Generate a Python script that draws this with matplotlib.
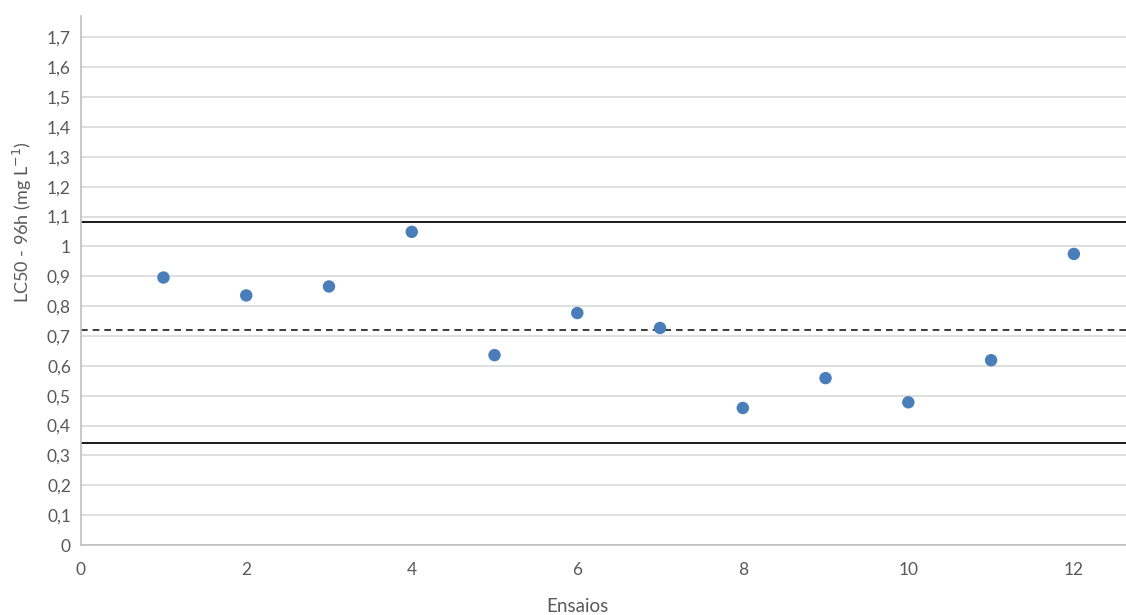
import matplotlib
matplotlib.use("Agg")
import matplotlib.pyplot as plt

# ── Data ───────────────────────────────────────────────────────
ensaios = [1, 2, 3, 4, 5, 6, 7, 8, 9, 10, 11, 12]
lc50 = [0.896, 0.836, 0.866, 1.049, 0.636, 0.777, 0.727, 0.459, 0.559, 0.478, 0.619, 0.975]

media = 0.720        # dashed line
limite_sup = 1.083   # upper control limit
limite_inf = 0.341   # lower control limit

y_ticks = [round(0.1 * i, 1) for i in range(18)]
x_ticks = [0, 2, 4, 6, 8, 10, 12]

plt.rcParams['font.family'] = ['Lato', 'DejaVu Sans']

W, H = 1126, 615
fig = plt.figure(figsize=(W / 100, H / 100), dpi=100)
ax = fig.add_axes([80.7 / W, (H - 545) / H, 1 - 80.7 / W, (545 - 16) / H])

ax.set_xlim(0, 12.63)
ax.set_ylim(0, 1.772)

ax.set_yticks(y_ticks)
ax.set_yticklabels([('%g' % v).replace('.', ',') for v in y_ticks])
ax.set_xticks(x_ticks)
ax.set_xticklabels([str(v) for v in x_ticks])

ax.grid(axis='y', color='#d9d9d9', linewidth=1.2, zorder=0)
ax.set_axisbelow(True)

for s in ('top', 'right'):
    ax.spines[s].set_visible(False)
for s in ('left', 'bottom'):
    ax.spines[s].set_color('#bfbfbf')
    ax.spines[s].set_linewidth(1.2)

ax.tick_params(axis='both', length=0, colors='#595959', labelsize=12.5)
ax.tick_params(axis='x', pad=12)
ax.tick_params(axis='y', pad=7)

ax.axhline(limite_sup, color='#1a1a1a', linewidth=1.4, zorder=2)
ax.axhline(limite_inf, color='#1a1a1a', linewidth=1.4, zorder=2)
ax.axhline(media, color='#1a1a1a', linewidth=1.2, linestyle=(0, (4, 3)), zorder=2)

ax.scatter(ensaios, lc50, s=80, color='#4a7ebb', edgecolors='none', zorder=3)

fig.text(22 / W, 1 - 222 / H, 'LC50 - 96h (mg L$^{-1}$)', rotation=90,
         ha='center', va='center', color='#595959', fontsize=13)
fig.text((80.7 + 6 * 82.75) / W, 1 - 607 / H, 'Ensaios',
         ha='center', va='center', color='#595959', fontsize=13.5)

fig.savefig('out.png', dpi=100)
